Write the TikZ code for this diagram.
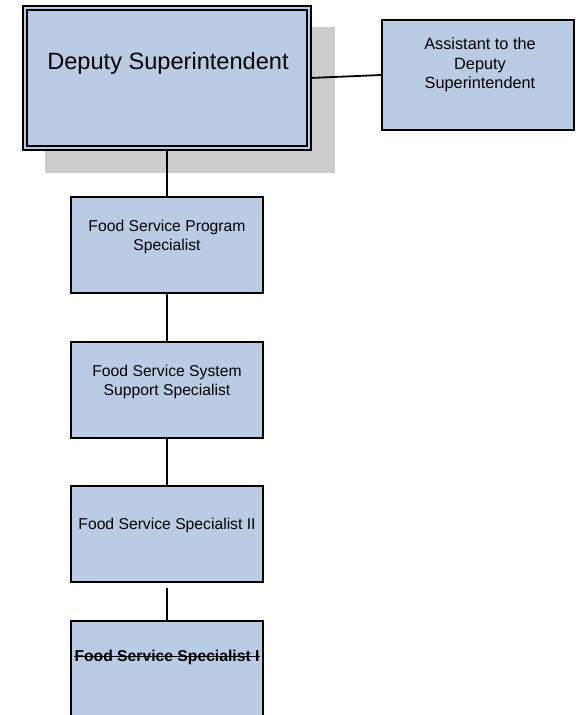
\documentclass[tikz,border=0pt]{standalone}
\usepackage{fontspec}
\setmainfont{Liberation Sans}
\begin{document}
\definecolor{boxfill}{RGB}{186,204,227}
\definecolor{shadowgray}{RGB}{204,204,204}
\begin{tikzpicture}[x=1bp,y=-1bp,
  orgbox/.style={draw=black, line width=1.8bp, fill=boxfill, inner sep=0pt,
    minimum width=192bp, minimum height=96bp},
  boxtext/.style={inner sep=0pt, align=center, font=\fontsize{15.7bp}{19bp}\selectfont},
  link/.style={draw=black, line width=1.8bp}]
\useasboundingbox (0,0) rectangle (586,715);
\clip (0,0) rectangle (586,715);

% drop shadow behind the top position
\fill[shadowgray] (45,27) rectangle (335,173);

% top position, double border
\node[draw=black, line width=1.6bp, double=boxfill, double distance=2.5bp,
      fill=boxfill, inner sep=0pt, minimum width=284bp, minimum height=140bp]
      (deputy) at (167,78) {};
\node[inner sep=0pt, font=\fontsize{23.6bp}{27bp}\selectfont] (deputytxt) at (168,63) {Deputy Superintendent};

% assistant
\node[orgbox, minimum width=192bp, minimum height=110bp] (assist) at (478,75) {};
\node[boxtext, font=\fontsize{16.3bp}{19.5bp}\selectfont] (assisttxt) at (480,65) {Assistant to the\\Deputy\\Superintendent};

% chain of specialist positions
\node[orgbox] (prog) at (167,245) {};
\node[boxtext] (progtxt) at (167,237) {Food Service Program\\Specialist};

\node[orgbox] (sys) at (167,390) {};
\node[boxtext] (systxt) at (167,381.5) {Food Service System\\Support Specialist};

\node[orgbox] (spec2) at (167,534) {};
\node[boxtext] (spec2txt) at (167,525) {Food Service Specialist II};

\node[orgbox, minimum height=130bp, anchor=north] (spec1) at (167,620) {};
\node[boxtext, font=\fontsize{15.7bp}{19bp}\selectfont\bfseries] (spec1txt) at (167,657) {Food Service Specialist I};
\draw[line width=1.3bp] ([yshift=4.5bp]spec1txt.base west) -- ([yshift=4.5bp]spec1txt.base east);

% reporting lines
\draw[link] (deputy.east) -- (assist.west);
\draw[link] (deputy.south) -- (prog.north);
\draw[link] (prog.south) -- (sys.north);
\draw[link] (sys.south) -- (spec2.north);
\draw[link] ([yshift=-5bp]spec2.south) -- (spec1.north);
\end{tikzpicture}
\end{document}
